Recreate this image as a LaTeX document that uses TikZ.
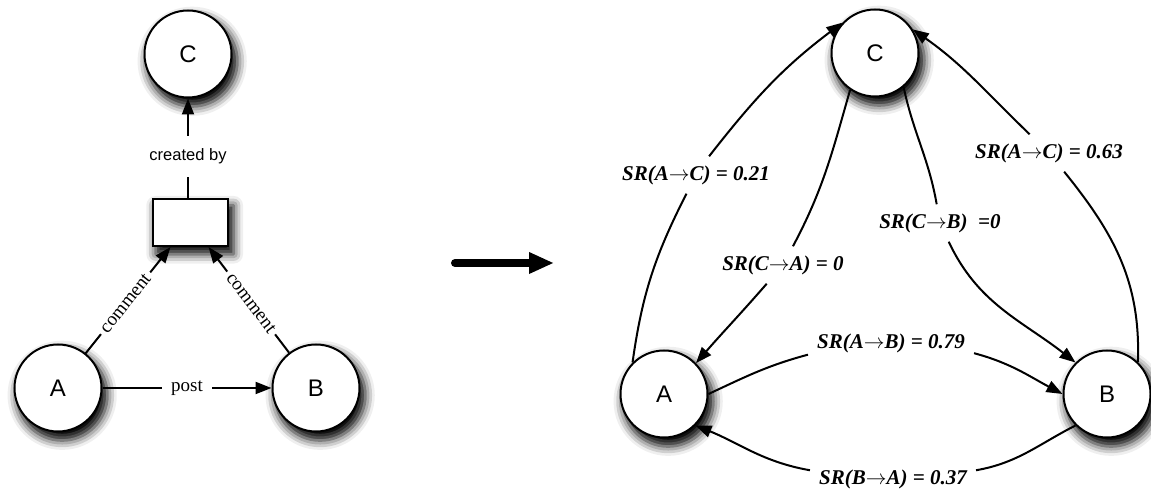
\documentclass[tikz,border=0pt]{standalone}
\usepackage{fontspec}
\setmainfont{Liberation Serif}
\setsansfont{Liberation Sans}
\usetikzlibrary{arrows.meta,positioning,shadows.blur}
\newcommand{\ra}{\ensuremath{\rightarrow}}
\tikzset{
  shd/.style={blur shadow={shadow xshift=4pt, shadow yshift=-7pt, shadow scale=1.04, shadow blur radius=9pt, shadow opacity=100}},
  vtx/.style={circle, draw, line width=2pt, fill=white, minimum size=87pt, inner sep=0pt, font=\sffamily\fontsize{24}{24}\selectfont, shd},
  msgbox/.style={draw, line width=2pt, fill=white, minimum width=75pt, minimum height=47pt, inner sep=0pt, shd},
  rel/.style={fill=white, font=\fontsize{19}{19}\selectfont, inner sep=4pt},
  cby/.style={fill=white, font=\sffamily\fontsize{16.5}{16.5}\selectfont, inner xsep=4pt, inner ysep=13pt},
  srlbl/.style={font=\bfseries\itshape\fontsize{21}{21}\selectfont, inner sep=9pt},
  edge/.style={line width=2pt},
  arr/.style={edge, -{Triangle[length=16pt,width=12pt]}},
  bigarr/.style={line width=8pt, line cap=round, -{Triangle[length=25pt,width=20pt]}},
}
\begin{document}
\begin{tikzpicture}[x=1pt, y=1pt]
  \useasboundingbox (0,0) rectangle (1151,494);
  % before
  \node[vtx] (C1) at (188,440) {C};
  \node[vtx] (A1) at (58,106) {A};
  \node[vtx] (B1) at (316,106) {B};
  \node[msgbox] (msg) at (190.5,271.5) {};
  \coordinate (msgL) at ([xshift=-20pt]msg.south);
  \coordinate (msgR) at ([xshift=18pt]msg.south);
  \draw[arr] (msg.north -| C1) -- node[cby, pos=0.42] {created by} (C1.south);
  \draw[arr] (A1) -- node[rel, sloped, pos=0.47] {comment} (msgL);
  \draw[arr] (B1) -- node[rel, sloped, pos=0.47] {comment} (msgR);
  \draw[arr] (A1) -- node[rel, inner xsep=9pt] {post} (B1);
  % transform
  \coordinate (arrTail) at (455,231);
  \coordinate (arrHead) at (554,231);
  \draw[bigarr] (arrTail) -- (arrHead);
  % after
  \node[vtx] (A2) at (664,100) {A};
  \node[vtx] (B2) at (1107,100) {B};
  \node[vtx] (C2) at (875,441) {C};
  \node[srlbl] (l21) at (696,319) {SR(A\ra C) = 0.21};
  \node[srlbl] (lCA) at (783,229) {SR(C\ra A) = 0};
  \node[srlbl] (lCB) at (940,271) {SR(C\ra B)~~=0};
  \node[srlbl] (l63) at (1049,341) {SR(A\ra C) = 0.63};
  \node[srlbl] (l79) at (891,151) {SR(A\ra B) = 0.79};
  \node[srlbl] (l37) at (893,15) {SR(B\ra A) = 0.37};
  \draw[edge] (A2.135) to[out=82,in=243] (l21.243);
  \draw[arr] (l21.55) to[out=52,in=217] (C2.137);
  \draw[edge] (C2.236) to[out=254,in=62] (lCA.62);
  \draw[arr] (lCA.229) to[out=229,in=49] (A2.44);
  \draw[edge] (C2.310) to[out=282,in=100] (lCB.100);
  \draw[arr] (lCB.-65) to[out=-65,in=142] (B2.135);
  \draw[edge] (B2.46) to[out=88,in=-51] (l63.-51);
  \draw[arr] (l63.136) to[out=136,in=-35] (C2.32);
  \draw[edge] (A2.east) to[out=25,in=195] (l79.188);
  \draw[arr] (l79.-7) to[out=-15,in=152] (B2.west);
  \draw[edge] (B2.225) to[out=207,in=10] (l37.6);
  \draw[arr] (l37.174) to[out=170,in=-22] (A2.-45);
\end{tikzpicture}
\end{document}
